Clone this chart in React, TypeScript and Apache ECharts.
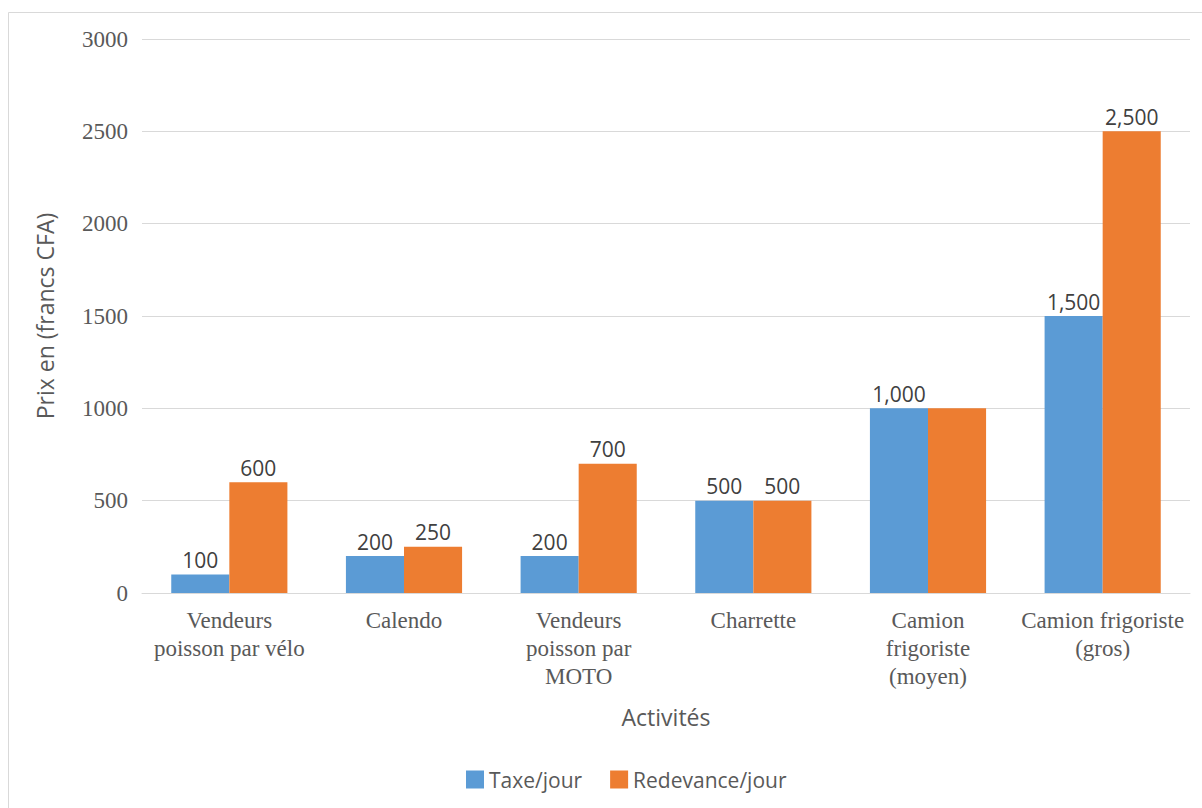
import React, { useEffect, useRef } from "react";
import * as echarts from "echarts";

const categories = [
  "Vendeurs\npoisson par vélo",
  "Calendo",
  "Vendeurs\npoisson par\nMOTO",
  "Charrette",
  "Camion\nfrigoriste\n(moyen)",
  "Camion frigoriste\n(gros)",
];
const seriesNames = ["Taxe/jour", "Redevance/jour"];
const taxe = [100, 200, 200, 500, 1000, 1500];
const redevance = [600, 250, 700, 500, 1000, 2500];
const redevanceLabelShown = [true, true, true, true, false, true];
const yTicks = { min: 0, max: 3000, interval: 500 };

const SANS = "'Open Sans', 'Noto Sans', sans-serif";
const SERIF = "'Liberation Serif', 'DejaVu Serif', serif";

export default function App() {
  const ref = useRef<HTMLDivElement>(null);
  useEffect(() => {
    if (!ref.current) return;
    const chart = echarts.init(ref.current, undefined, { renderer: "svg" });
    const fmt = (p: any) => Number(p.value).toLocaleString("en-US");
    chart.setOption({
      animation: false,
      backgroundColor: "#ffffff",
      graphic: [
        {
          type: "rect",
          shape: { x: 8.5, y: 12.5, width: 1300, height: 900 },
          style: { fill: "none", stroke: "#d9d9d9", lineWidth: 1 },
          silent: true,
          z: -10,
        },
      ],
      legend: {
        left: 461,
        top: 764,
        itemWidth: 18,
        itemHeight: 18,
        itemGap: 28,
        icon: "rect",
        textStyle: { fontFamily: SANS, fontSize: 21, color: "#595959" },
        data: seriesNames,
      },
      grid: { left: 142, top: 39, width: 1048, height: 554, containLabel: false },
      xAxis: {
        type: "category",
        data: categories,
        name: "Activités",
        nameLocation: "middle",
        nameGap: 112,
        nameTextStyle: { fontFamily: SANS, fontSize: 23, color: "#595959" },
        axisLine: { show: true, lineStyle: { color: "#d9d9d9", width: 1 } },
        axisTick: { show: false },
        axisLabel: {
          fontFamily: SERIF,
          fontSize: 23,
          lineHeight: 28,
          color: "#595959",
          margin: 13,
          interval: 0,
        },
      },
      yAxis: {
        type: "value",
        min: yTicks.min,
        max: yTicks.max,
        interval: yTicks.interval,
        name: "Prix en (francs CFA)",
        nameLocation: "middle",
        nameGap: 86,
        nameRotate: 90,
        nameTextStyle: { fontFamily: SANS, fontSize: 23, color: "#595959" },
        axisLine: { show: false },
        axisTick: { show: false },
        splitLine: { lineStyle: { color: "#d9d9d9", width: 1 } },
        axisLabel: {
          fontFamily: SERIF,
          fontSize: 23,
          color: "#595959",
          margin: 14,
          formatter: (v: number) => String(v),
        },
      },
      series: [
        {
          name: seriesNames[0],
          type: "bar",
          data: taxe,
          barGap: "0%",
          barCategoryGap: "33.5%",
          itemStyle: { color: "#5b9bd5" },
          label: {
            show: true,
            position: "top",
            distance: 4,
            formatter: fmt,
            fontFamily: SANS,
            fontSize: 21,
            color: "#404040",
          },
        },
        {
          name: seriesNames[1],
          type: "bar",
          data: redevance.map((v, i) => ({
            value: v,
            label: { show: redevanceLabelShown[i] },
          })),
          barGap: "0%",
          barCategoryGap: "33.5%",
          itemStyle: { color: "#ed7d31" },
          label: {
            show: true,
            position: "top",
            distance: 4,
            formatter: fmt,
            fontFamily: SANS,
            fontSize: 21,
            color: "#404040",
          },
        },
      ],
    });
    return () => chart.dispose();
  }, []);
  return (
    <div
      ref={ref}
      style={{ position: "absolute", left: 0, top: 0, width: 1202, height: 808 }}
    />
  );
}
